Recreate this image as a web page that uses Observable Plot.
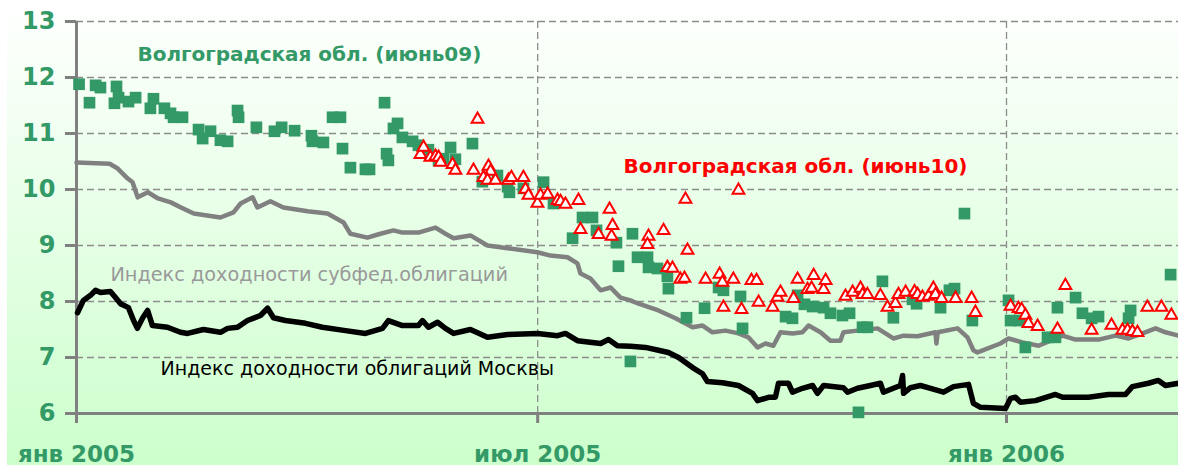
<!DOCTYPE html>
<html><head><meta charset="utf-8">
<script src="https://cdn.jsdelivr.net/npm/d3@7"></script>
<script src="https://cdn.jsdelivr.net/npm/@observablehq/plot@0.6"></script>
<style>
html,body{margin:0;padding:0;background:#fff;}
#wrap{position:relative;width:1178px;height:468px;overflow:hidden;}
#bg{position:absolute;left:7px;top:0;width:1171px;height:465px;background:linear-gradient(to bottom,#ffffff 0%,#ccffcc 100%);}
#chart{position:absolute;left:0;top:0;}
#chart g[aria-label$="tick label"] text{font-weight:bold;}
</style></head><body><div id="wrap"><div id="bg"></div><div id="chart"></div></div>
<script>
// day offsets counted from 2005-01-01
const subfedDays = [0,13,16,20,22,24,28,32,37,41,46,56.5,61.6,64.4,69.1,71,76.1,81.2,90.7,98.5,104.8,107.5,114.2,119.3,124.4,127.9,134.2,140.9,144.8,148,154.6,161.3,169.2,180.9,186,192.7,196.6,197.8,201.7,205.7,209.6,213.5,217.4,220.6,228.4,235.1,241.8,245.7,249.6,254.7,259.8,263.7,267.3,270.4,273.5,276.3,281,284.9,287.3,292,295.9,299.8,301,306.5,314.4,320.6,324.6,330.1,337.1,337.5,338,345.8,349.7,352,353.6,362.6,365.8,371.3,377.6,387,392.1,401.1,407.8,412.9,418.4,423.5,427.4,432.5];
const subfedVals = [10.48,10.46,10.38,10.20,10.13,9.86,9.95,9.84,9.77,9.68,9.57,9.50,9.59,9.75,9.86,9.68,9.79,9.68,9.61,9.57,9.41,9.21,9.14,9.21,9.27,9.23,9.23,9.32,9.21,9.13,9.18,9.00,8.95,8.88,8.82,8.79,8.68,8.50,8.41,8.20,8.25,8.07,8.02,7.96,7.84,7.70,7.54,7.57,7.45,7.48,7.43,7.36,7.18,7.25,7.21,7.45,7.43,7.45,7.57,7.45,7.30,7.30,7.45,7.48,7.52,7.34,7.39,7.38,7.45,7.25,7.45,7.52,7.36,7.13,7.09,7.25,7.34,7.27,7.21,7.39,7.32,7.32,7.39,7.34,7.43,7.52,7.45,7.39];

const moscowDays = [0.4,2.7,5.5,7.5,9.4,13.3,15.3,17.3,20.4,22.4,23.9,25.9,27.9,29.8,35.7,40.8,43.6,49.8,56.5,59.3,63.2,67.1,72.2,75,77.3,82,89.9,96.5,105.6,113.4,120.1,122.4,127.9,134.2,135.8,138.1,141.7,144.8,148,154.6,161.3,169.2,180.9,188.8,191.9,196.6,205.7,208.8,212.3,217.4,223.3,228.4,232.3,236.3,241.8,245.7,247.6,253.5,259.8,265.3,267.3,271.6,274.3,275.5,279.4,281,284.9,288.9,290.8,293.2,301,302.6,306.5,311.6,315.5,316.7,320.6,323.4,324.2,324.6,327.3,331.2,335.2,340.3,344.2,350.1,352,354.8,364.6,366.6,368.5,370.5,376.4,384.2,387,397.2,405,411.7,414.4,420.7,424.6,427.4,432.5];
const moscowVals = [7.80,8.02,8.11,8.20,8.16,8.18,8.07,7.96,7.89,7.66,7.52,7.70,7.84,7.57,7.54,7.45,7.43,7.50,7.45,7.52,7.54,7.66,7.75,7.88,7.71,7.66,7.61,7.54,7.48,7.43,7.52,7.66,7.57,7.57,7.66,7.54,7.63,7.52,7.43,7.50,7.36,7.41,7.43,7.39,7.43,7.30,7.25,7.32,7.21,7.20,7.18,7.13,7.09,7.00,6.82,6.71,6.57,6.55,6.50,6.36,6.23,6.29,6.29,6.54,6.54,6.38,6.45,6.50,6.36,6.50,6.46,6.38,6.45,6.50,6.54,6.38,6.45,6.50,6.68,6.36,6.46,6.50,6.45,6.38,6.48,6.52,6.18,6.11,6.09,6.27,6.29,6.20,6.23,6.34,6.29,6.29,6.34,6.34,6.48,6.54,6.59,6.50,6.54];

const june09Days = [1,5.1,7.5,9.4,15.7,14.9,16.5,20.4,23.2,29,30.2,34.5,36.9,38.1,41.6,47.9,49.5,52.6,56.5,59.3,63.2,63.6,70.6,77.7,80.5,85.6,92.2,92.6,96.9,100.5,103.6,104.4,107.5,113.4,115,120.9,121.7,122.4,124.4,126,127.9,131.9,134.2,138.1,142.1,144,146.8,148.7,155.4,159.3,165.2,169.2,169.9,175.4,183.3,187.2,194.7,198.6,202.5,204.1,211.9,212.7,218.2,217.4,220.2,224.1,224.5,228,231.9,232.3,239.4,246.5,252,253.9,260.6,261.4,278.3,281,283,285.7,288.9,293.2,295.9,300.6,303.4,306.9,308.5,310.4,316.3,320.6,328.1,329.7,339.1,342.6,344.6,348.5,351.6,365.8,366.6,370.1,372.4,381.1,384.2,385,392.1,394.8,398.4,401.1,412.9,413.7,429.4];
const june09Vals = [11.88,11.55,11.86,11.82,11.84,11.54,11.64,11.57,11.64,11.45,11.62,11.45,11.36,11.29,11.29,11.07,10.91,11.04,10.88,10.86,11.41,11.29,11.11,11.04,11.11,11.05,10.96,10.86,10.84,11.29,11.29,10.73,10.39,10.36,10.36,11.55,10.64,10.52,11.09,11.18,10.93,10.86,10.79,10.71,10.52,10.55,10.75,10.54,10.82,10.14,10.25,10.05,9.95,10.02,10.13,9.75,9.13,9.50,9.50,9.27,9.05,8.63,9.21,6.93,8.79,8.79,8.61,8.59,8.45,8.23,7.71,7.88,8.25,8.20,8.09,7.52,7.73,7.70,8.11,7.95,7.91,7.89,7.79,7.75,7.79,6.02,7.54,7.54,8.36,7.71,8.04,7.96,7.89,8.20,8.23,9.57,7.66,8.02,7.66,7.66,7.18,7.36,7.36,7.89,8.07,7.79,7.70,7.73,7.70,7.84,8.48];

const june10Days = [135.0,136.2,138.9,140.9,142.1,142.9,147.6,148.7,155.8,157.4,161.7,162.5,159.7,161.3,164.4,169.5,170.7,175.4,176.2,177.4,180.9,182.1,184.9,188.8,190,191.9,197,197.8,204.9,209.2,210.4,210,224.5,224.1,230.4,231.9,233.9,237,238.6,239,239.8,246.9,252.4,253.5,253.9,257.8,259.8,261,264.9,266.9,267.7,273.2,275.1,276.3,281.4,283,286.9,288.5,289.3,293.2,294,301.8,304.6,307.7,308.5,310.4,315.5,318.3,321.4,322.6,325.4,328.9,330.1,332,334.4,336.3,337.1,339.5,345,351.3,352.8,366.6,369.7,370.9,372.4,373.6,377.2,385,388.1,398.4,406.2,410.5,412.5,414.4,416.4,420.3,425.8,429.7];
const june10Vals = [10.66,10.79,10.61,10.63,10.61,10.52,10.48,10.38,10.38,11.29,10.45,10.36,10.25,10.20,10.20,10.20,10.25,10.25,10.04,9.93,9.79,9.93,9.95,9.84,9.82,9.77,9.84,9.32,9.23,9.68,9.39,9.20,9.20,9.05,9.30,8.64,8.63,8.43,8.45,9.86,8.95,8.43,8.52,8.38,7.93,8.43,10.02,7.89,8.41,8.41,8.02,7.93,8.11,8.20,8.09,8.43,8.25,8.27,8.50,8.25,8.41,8.13,8.20,8.27,8.16,8.16,8.14,7.93,8.00,8.16,8.20,8.21,8.16,8.11,8.13,8.27,8.16,8.09,8.09,8.09,7.84,7.95,7.91,7.89,7.79,7.64,7.59,7.54,8.32,7.52,7.61,7.52,7.52,7.50,7.48,7.93,7.93,7.79];

const yTicks = [6,7,8,9,10,11,12,13];
const yGrid = [7,8,9,10,11,12,13];
const xTickDays = [0,181,365];
const xTickLabels = ["янв 2005","июл 2005","янв 2006"];
const domainEndDay = 432.5;

const labelTexts = ["Волгоградская обл. (июнь09)","Волгоградская обл. (июнь10)","Индекс доходности субфед.облигаций","Индекс доходности облигаций Москвы"];
const labelDays = [23.9,214.7,13.3,33.0];
const labelVals = [12.30,10.29,8.375,6.68];

const START = Date.UTC(2005,0,1);
const DAY = 86400000;
const toDate = d => new Date(START + d*DAY);
const series = (days, vals) => days.map((d,i) => ({date: toDate(d), v: vals[i]}));

const subfed = series(subfedDays, subfedVals);
const moscow = series(moscowDays, moscowVals);
const june09 = series(june09Days, june09Vals);
const june10 = series(june10Days, june10Vals);
const xTicks = xTickDays.map(toDate);
const labels = labelTexts.map((t,i) => ({text: t, date: toDate(labelDays[i]), v: labelVals[i]}));

const green = "#339966";
const axisGray = "#808080";
const gridStyle = {stroke:"#8c8c8c", strokeOpacity:1, strokeWidth:1.3, strokeDasharray:"7,4"};

const chart = Plot.plot({
  width: 1178, height: 468,
  marginLeft: 76, marginTop: 21, marginBottom: 55, marginRight: 0,
  style: {background: "transparent", fontFamily: "DejaVu Sans", overflow: "visible"},
  x: {type: "utc", domain: [toDate(0), toDate(domainEndDay)]},
  y: {domain: [6, 13]},
  marks: [
    Plot.gridY(yGrid, gridStyle),
    Plot.gridX(xTicks.slice(1), gridStyle),
    Plot.axisY(yTicks, {label: null, tickSize: 11, tickPadding: 10, fontSize: 24, fontWeight: "bold", fill: green, stroke: axisGray, strokeWidth: 3, tickFormat: d => String(d)}),
    Plot.axisX(xTicks, {label: null, tickSize: 10, tickPadding: 22, fontSize: 23, fontWeight: "bold", fill: green, stroke: axisGray, strokeWidth: 3, tickFormat: d => xTickLabels[xTicks.findIndex(t => +t === +d)]}),
    Plot.ruleY([6], {stroke: axisGray, strokeWidth: 3}),
    Plot.ruleX([toDate(0)], {stroke: axisGray, strokeWidth: 3}),
    Plot.line(subfed, {x: "date", y: "v", stroke: "#808080", strokeWidth: 4.5, strokeLinejoin: "round", strokeLinecap: "round"}),
    Plot.line(moscow, {x: "date", y: "v", stroke: "#000000", strokeWidth: 5.5, strokeLinejoin: "round", strokeLinecap: "round"}),
    Plot.dot(june09, {x: "date", y: "v", symbol: "square", r: 6.6, fill: green}),
    Plot.dot(june10, {x: "date", y: "v", symbol: "triangle", r: 4.4, fill: "white", stroke: "#ff0000", strokeWidth: 2, dy: 2}),
    Plot.text([labels[0]], {x: "date", y: "v", text: "text", fill: green, fontSize: 20, fontWeight: "bold", textAnchor: "start", lineAnchor: "bottom"}),
    Plot.text([labels[1]], {x: "date", y: "v", text: "text", fill: "#ff0000", fontSize: 20, fontWeight: "bold", textAnchor: "start", lineAnchor: "bottom"}),
    Plot.text([labels[2]], {x: "date", y: "v", text: "text", fill: "#999999", fontSize: 19.3, textAnchor: "start", lineAnchor: "bottom"}),
    Plot.text([labels[3]], {x: "date", y: "v", text: "text", fill: "#000000", fontSize: 19, textAnchor: "start", lineAnchor: "bottom"})
  ]
});
document.getElementById("chart").appendChild(chart);
</script>
</body></html>
